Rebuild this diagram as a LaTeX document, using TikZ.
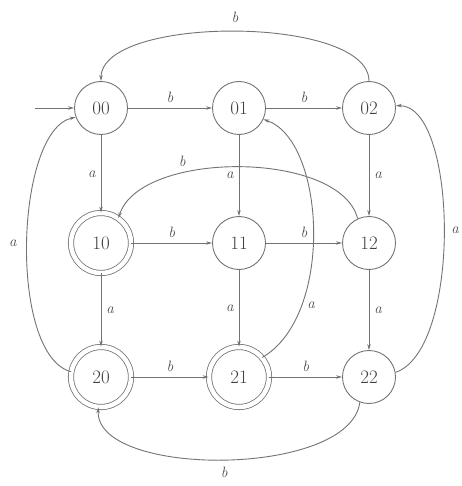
\documentclass[tikz,border=0pt]{standalone}
\usetikzlibrary{arrows.meta}
\begin{document}
\begin{tikzpicture}[x=1pt,y=-1pt,
  st/.style={circle, draw=black!55, line width=0.9pt, minimum size=53pt, inner sep=0pt, text=black!75, font=\fontsize{19}{22}\selectfont},
  acc/.style={st, double, double distance=4.5pt, minimum size=60pt, line width=0.8pt},
  tr/.style={-{Stealth[length=6pt,width=3.5pt]}, draw=black!55, line width=0.9pt},
  lab/.style={font=\fontsize{15}{18}\selectfont\itshape, text=black!70, inner sep=2pt}]
\useasboundingbox (0,0) rectangle (461,486);
\node[st]  (00) at (101,108) {00};
\node[st]  (01) at (239,108) {01};
\node[st]  (02) at (369,108) {02};
\node[acc] (10) at (101,243) {10};
\node[st]  (11) at (239,243) {11};
\node[st]  (12) at (369,243) {12};
\node[acc] (20) at (101,377) {20};
\node[acc] (21) at (239,377) {21};
\node[st]  (22) at (369,377) {22};
\coordinate (s) at (35,108);
\draw[tr] (s) -- (00);
\draw[tr] (00) -- node[lab, above=3pt] {b} (01);
\draw[tr] (01) -- node[lab, above=3pt] {b} (02);
\draw[tr] (10) -- node[lab, above=3pt] {b} (11);
\draw[tr] (11) -- node[lab, above=3pt] {b} (12);
\draw[tr] (20) -- node[lab, above=3pt] {b} (21);
\draw[tr] (21) -- node[lab, above=3pt] {b} (22);
\draw[tr] (00) -- node[lab, left=3pt] {a} (10);
\draw[tr] (01) -- node[lab, left=3pt] {a} (11);
\draw[tr] (02) -- node[lab, right=3pt] {a} (12);
\draw[tr] (10) -- node[lab, right=3pt] {a} (20);
\draw[tr] (11) -- node[lab, left=3pt] {a} (21);
\draw[tr] (12) -- node[lab, right=3pt] {a} (22);
\draw[tr] (02.90) .. controls (369,15) and (101,15) .. node[lab, above=6pt] {b} (00.90);
\draw[tr] (12.115) .. controls (340,150) and (140,150) .. node[lab, pos=0.68, above=5pt] {b} (10.55);
\draw[tr] (21.40) .. controls (335,315) and (325,140) .. node[lab, pos=0.25, right=3pt] {a} (01.-25);
\draw[tr] (20.170) .. controls (8,355) and (15,130) .. node[lab, left=8pt] {a} (00.200);
\draw[tr] (22.10) .. controls (462,350) and (458,105) .. node[lab, right=5pt] {a} (02.5);
\draw[tr] (22.-110) .. controls (350,478) and (95,478) .. node[lab, below=5pt] {b} (20.-95);
\end{tikzpicture}
\end{document}
